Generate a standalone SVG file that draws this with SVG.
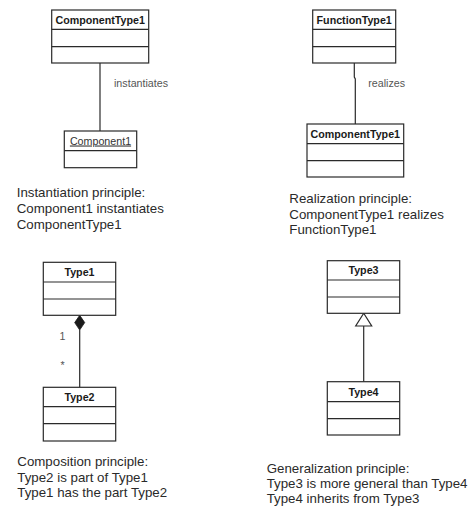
<svg xmlns="http://www.w3.org/2000/svg" width="471" height="508" viewBox="0 0 471 508">
  <style>
    .box { fill: #ffffff; stroke: #2a2a2a; stroke-width: 1.2; }
    .sep { stroke: #2a2a2a; stroke-width: 1.2; }
    .title { font-family: "Liberation Sans", Arial, sans-serif; font-size: 10.7px; font-weight: bold; fill: #1a1a1a; text-anchor: middle; }
    .obj { font-family: "Liberation Sans", Arial, sans-serif; font-size: 10.7px; fill: #333333; text-anchor: middle; text-decoration: underline; }
    .lbl { font-family: "Liberation Sans", Arial, sans-serif; font-size: 10.7px; fill: #555555; }
    .desc { font-family: "Liberation Sans", Arial, sans-serif; font-size: 13.3px; fill: #2a2a2a; }
    .edge { fill: none; stroke: #2a2a2a; stroke-width: 1.2; }
  </style>
  <rect width="471" height="508" fill="#ffffff"/>

  <!-- connectors -->
  <g id="connectors">
    <line class="edge" x1="100" y1="63" x2="100" y2="131"/>
    <polyline class="edge" points="354.3,63 354.3,77 355.3,79 355.3,124"/>
    <line class="edge" x1="79.7" y1="330" x2="79.7" y2="387.3"/>
    <polygon points="79.7,315.3 84.7,322.6 79.7,330 74.7,322.6" fill="#1a1a1a" stroke="#1a1a1a" stroke-width="0.8"/>
    <line class="edge" x1="363.7" y1="326" x2="363.7" y2="381.7"/>
    <polygon points="363.7,313.3 371.7,326 355.7,326" fill="#ffffff" stroke="#2a2a2a" stroke-width="1.2"/>
    <text class="lbl" x="114" y="86.7">instantiates</text>
    <text class="lbl" x="368.3" y="86.5">realizes</text>
    <text class="lbl" x="59.5" y="339.5">1</text>
    <text class="lbl" x="60.5" y="369">*</text>
  </g>

  <!-- instantiation -->
  <g id="componentType1-a">
    <rect class="box" x="51.7" y="10" width="97" height="53"/>
    <line class="sep" x1="51.7" y1="29.3" x2="148.7" y2="29.3"/>
    <line class="sep" x1="51.7" y1="46.7" x2="148.7" y2="46.7"/>
    <text class="title" x="100.2" y="23.5">ComponentType1</text>
  </g>
  <g id="component1">
    <rect class="box" x="64.3" y="131" width="72.4" height="36.7"/>
    <line class="sep" x1="64.3" y1="150.7" x2="136.7" y2="150.7"/>
    <text class="obj" x="100.5" y="144.5">Component1</text>
  </g>
  <text class="desc" x="16.7" y="197">Instantiation principle:</text>
  <text class="desc" x="16.7" y="213">Component1 instantiates</text>
  <text class="desc" x="16.7" y="229">ComponentType1</text>

  <!-- realization -->
  <g id="functionType1">
    <rect class="box" x="312.7" y="10" width="83" height="53"/>
    <line class="sep" x1="312.7" y1="29.3" x2="395.7" y2="29.3"/>
    <line class="sep" x1="312.7" y1="46.7" x2="395.7" y2="46.7"/>
    <text class="title" x="354.2" y="23.5">FunctionType1</text>
  </g>
  <g id="componentType1-b">
    <rect class="box" x="307" y="124" width="96.7" height="53"/>
    <line class="sep" x1="307" y1="143.7" x2="403.7" y2="143.7"/>
    <line class="sep" x1="307" y1="160.7" x2="403.7" y2="160.7"/>
    <text class="title" x="355.3" y="137.8">ComponentType1</text>
  </g>
  <text class="desc" x="289.3" y="203">Realization principle:</text>
  <text class="desc" x="289.3" y="218.5">ComponentType1 realizes</text>
  <text class="desc" x="289.3" y="234">FunctionType1</text>

  <!-- composition -->
  <g id="type1">
    <rect class="box" x="43.3" y="262.3" width="72.4" height="53"/>
    <line class="sep" x1="43.3" y1="282" x2="115.7" y2="282"/>
    <line class="sep" x1="43.3" y1="299" x2="115.7" y2="299"/>
    <text class="title" x="79.5" y="276">Type1</text>
  </g>
  <g id="type2">
    <rect class="box" x="43.3" y="387.3" width="72.4" height="53.7"/>
    <line class="sep" x1="43.3" y1="406.7" x2="115.7" y2="406.7"/>
    <line class="sep" x1="43.3" y1="423.7" x2="115.7" y2="423.7"/>
    <text class="title" x="79.5" y="400.8">Type2</text>
  </g>
  <text class="desc" x="17.3" y="466">Composition principle:</text>
  <text class="desc" x="17.3" y="481.7">Type2 is part of Type1</text>
  <text class="desc" x="17.3" y="497.3">Type1 has the part Type2</text>

  <!-- generalization -->
  <g id="type3">
    <rect class="box" x="327.3" y="260.7" width="72.4" height="52.6"/>
    <line class="sep" x1="327.3" y1="280" x2="399.7" y2="280"/>
    <line class="sep" x1="327.3" y1="297" x2="399.7" y2="297"/>
    <text class="title" x="363.5" y="274.3">Type3</text>
  </g>
  <g id="type4">
    <rect class="box" x="327.3" y="381.7" width="72.4" height="53.3"/>
    <line class="sep" x1="327.3" y1="401.7" x2="399.7" y2="401.7"/>
    <line class="sep" x1="327.3" y1="418.7" x2="399.7" y2="418.7"/>
    <text class="title" x="363.5" y="395.5">Type4</text>
  </g>
  <text class="desc" x="266.7" y="472.7">Generalization principle:</text>
  <text class="desc" x="266.7" y="488">Type3 is more general than Type4</text>
  <text class="desc" x="266.7" y="503.3">Type4 inherits from Type3</text>
</svg>
